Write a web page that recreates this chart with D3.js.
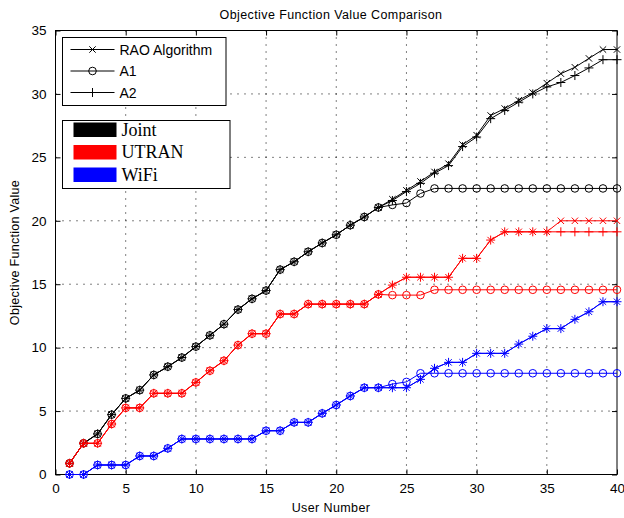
<!DOCTYPE html>
<html>
<head>
<meta charset="utf-8">
<script src="https://cdn.jsdelivr.net/npm/d3@7"></script>
<style>
  body { margin: 0; background: #fff; }
</style>
</head>
<body>
<script>
// user numbers 1..40
const users = d3.range(1, 41);

// Joint (black)
const jointRAO = [0.88, 2.46, 3.2, 4.72, 6.0, 6.65, 7.85, 8.5, 9.22, 10.08, 10.97, 11.85, 13.0, 13.85, 14.5, 16.15, 16.77, 17.56, 18.25, 18.9,
  19.65, 20.3, 21.05, 21.7, 22.4, 23.1, 23.85, 24.5, 26.0, 26.75, 28.3, 28.85, 29.5, 30.1, 30.85, 31.6, 32.1, 32.8, 33.5, 33.5];
const jointA1 = [0.88, 2.46, 3.2, 4.72, 6.0, 6.65, 7.85, 8.5, 9.22, 10.08, 10.97, 11.85, 13.0, 13.85, 14.5, 16.15, 16.77, 17.56, 18.25, 18.9,
  19.65, 20.3, 21.05, 21.25, 21.4, 22.15, 22.55, 22.55, 22.55, 22.55, 22.55, 22.55, 22.55, 22.55, 22.55, 22.55, 22.55, 22.55, 22.55, 22.55];
const jointA2 = [0.88, 2.46, 3.2, 4.72, 6.0, 6.65, 7.85, 8.5, 9.22, 10.08, 10.97, 11.85, 13.0, 13.85, 14.5, 16.15, 16.77, 17.56, 18.25, 18.9,
  19.65, 20.3, 21.05, 21.6, 22.3, 22.95, 23.75, 24.35, 25.85, 26.6, 28.05, 28.7, 29.35, 30.0, 30.55, 30.9, 31.45, 32.05, 32.7, 32.7];

// UTRAN (red)
const utranRAO = [0.88, 2.46, 2.46, 3.98, 5.25, 5.25, 6.4, 6.4, 6.4, 7.26, 8.18, 8.97, 10.2, 11.1, 11.1, 12.65, 12.65, 13.43, 13.43, 13.43,
  13.43, 13.43, 14.2, 14.93, 15.55, 15.55, 15.55, 15.55, 17.04, 17.04, 18.48, 19.13, 19.13, 19.13, 19.13, 20.0, 20.0, 20.0, 20.0, 20.0];
const utranA1 = [0.88, 2.46, 2.46, 3.98, 5.25, 5.25, 6.4, 6.4, 6.4, 7.26, 8.18, 8.97, 10.2, 11.1, 11.1, 12.65, 12.65, 13.43, 13.43, 13.43,
  13.43, 13.43, 14.2, 14.14, 14.14, 14.14, 14.56, 14.56, 14.56, 14.56, 14.56, 14.56, 14.56, 14.56, 14.56, 14.56, 14.56, 14.56, 14.56, 14.56];
const utranA2 = [0.88, 2.46, 2.46, 3.98, 5.25, 5.25, 6.4, 6.4, 6.4, 7.26, 8.18, 8.97, 10.2, 11.1, 11.1, 12.65, 12.65, 13.43, 13.43, 13.43,
  13.43, 13.43, 14.2, 14.93, 15.55, 15.55, 15.55, 15.55, 17.04, 17.04, 18.48, 19.13, 19.13, 19.13, 19.13, 19.13, 19.13, 19.13, 19.13, 19.13];

// WiFi (blue)
const wifiRAO = [0, 0, 0.75, 0.75, 0.75, 1.46, 1.46, 2.06, 2.8, 2.8, 2.8, 2.8, 2.8, 2.8, 3.45, 3.45, 4.11, 4.11, 4.82, 5.48,
  6.19, 6.84, 6.84, 6.84, 6.84, 7.5, 8.37, 8.84, 8.84, 9.55, 9.55, 9.55, 10.28, 10.9, 11.5, 11.5, 12.23, 12.83, 13.62, 13.62];
const wifiA1 = [0, 0, 0.75, 0.75, 0.75, 1.46, 1.46, 2.06, 2.8, 2.8, 2.8, 2.8, 2.8, 2.8, 3.45, 3.45, 4.11, 4.11, 4.82, 5.48,
  6.19, 6.84, 6.84, 7.13, 7.3, 7.98, 7.98, 7.98, 7.98, 7.98, 7.98, 7.98, 7.98, 7.98, 7.98, 7.98, 7.98, 7.98, 7.98, 7.98];
const wifiA2 = [0, 0, 0.75, 0.75, 0.75, 1.46, 1.46, 2.06, 2.8, 2.8, 2.8, 2.8, 2.8, 2.8, 3.45, 3.45, 4.11, 4.11, 4.82, 5.48,
  6.19, 6.84, 6.84, 6.84, 6.84, 7.5, 8.37, 8.84, 8.84, 9.55, 9.55, 9.55, 10.28, 10.9, 11.5, 11.5, 12.23, 12.83, 13.62, 13.62];

const xTicks = [0, 5, 10, 15, 20, 25, 30, 35, 40];
const yTicks = [0, 5, 10, 15, 20, 25, 30, 35];

const algoNames = ["RAO Algorithm", "A1", "A2"];
const algoMarkers = ["x", "o", "+"];
const groupNames = ["Joint", "UTRAN", "WiFi"];
const groupColors = ["#000000", "#ff0000", "#0000ff"];

const series = [
  { color: "#000000", marker: "x", values: jointRAO },
  { color: "#000000", marker: "o", values: jointA1 },
  { color: "#000000", marker: "+", values: jointA2 },
  { color: "#ff0000", marker: "x", values: utranRAO },
  { color: "#ff0000", marker: "o", values: utranA1 },
  { color: "#ff0000", marker: "+", values: utranA2 },
  { color: "#0000ff", marker: "x", values: wifiRAO },
  { color: "#0000ff", marker: "o", values: wifiA1 },
  { color: "#0000ff", marker: "+", values: wifiA2 }
];

const sans = "'Liberation Sans', Arial, sans-serif";
const serif = "'Liberation Serif', 'Times New Roman', serif";

const W = 624, H = 518;
const margin = { top: 30.5, right: 7, bottom: 43.5, left: 55.5 };
const width = W - margin.left - margin.right,
  height = H - margin.top - margin.bottom;

const svg = d3.select("body").append("svg")
  .attr("width", W)
  .attr("height", H)
  .style("font-family", sans);

const g = svg.append("g")
  .attr("transform", "translate(" + margin.left + "," + margin.top + ")");

const x = d3.scaleLinear().domain([0, 40]).range([0, width]);
const y = d3.scaleLinear().domain([0, 35]).range([height, 0]);

// grid
g.append("g").selectAll("line")
  .data(xTicks.slice(1, -1))
  .enter().append("line")
  .attr("x1", d => x(d)).attr("x2", d => x(d))
  .attr("y1", 0).attr("y2", height)
  .attr("stroke", "#000").attr("stroke-width", 1)
  .attr("stroke-dasharray", "1,6");

g.append("g").selectAll("line")
  .data(yTicks.slice(1, -1))
  .enter().append("line")
  .attr("y1", d => y(d)).attr("y2", d => y(d))
  .attr("x1", 0).attr("x2", width)
  .attr("stroke", "#000").attr("stroke-width", 1)
  .attr("stroke-dasharray", "1,6");

// axes (ticks inward)
const xAxis = g.append("g")
  .attr("transform", "translate(0," + height + ")")
  .call(d3.axisBottom(x).tickValues(xTicks).tickSizeInner(-5).tickSizeOuter(0).tickPadding(9));
const xAxisTop = g.append("g")
  .call(d3.axisTop(x).tickValues(xTicks).tickSizeInner(-5).tickSizeOuter(0).tickFormat(""));
const yAxis = g.append("g")
  .call(d3.axisLeft(y).tickValues(yTicks).tickSizeInner(-5).tickSizeOuter(0).tickPadding(9));
const yAxisRight = g.append("g")
  .attr("transform", "translate(" + width + ",0)")
  .call(d3.axisRight(y).tickValues(yTicks).tickSizeInner(-5).tickSizeOuter(0).tickFormat(""));

[xAxis, xAxisTop, yAxis, yAxisRight].forEach(a => {
  a.select(".domain").remove();
  a.attr("font-family", null).attr("font-size", null);
  a.selectAll("text").style("font-size", "13.5px").attr("fill", "#000")
    .style("font-family", sans);
});

g.append("rect")
  .attr("width", width).attr("height", height)
  .attr("fill", "none").attr("stroke", "#000").attr("stroke-width", 1);

// markers
function drawMarker(sel, type, color) {
  if (type === "o") {
    sel.append("circle").attr("r", 3.8)
      .attr("fill", "none").attr("stroke", color).attr("stroke-width", 1);
  } else if (type === "x") {
    sel.append("path").attr("d", "M-3.2,-3.2L3.2,3.2M-3.2,3.2L3.2,-3.2")
      .attr("fill", "none").attr("stroke", color).attr("stroke-width", 1);
  } else {
    sel.append("path").attr("d", "M-4.5,0L4.5,0M0,-4.5L0,4.5")
      .attr("fill", "none").attr("stroke", color).attr("stroke-width", 1);
  }
}

const line = d3.line()
  .x((d, i) => x(users[i]))
  .y(d => y(d));

series.forEach(s => {
  const sg = g.append("g");
  sg.append("path")
    .attr("d", line(s.values))
    .attr("fill", "none")
    .attr("stroke", s.color)
    .attr("stroke-width", 1);
  sg.selectAll("g.m")
    .data(s.values)
    .enter().append("g")
    .attr("class", "m")
    .attr("transform", (d, i) => "translate(" + x(users[i]) + "," + y(d) + ")")
    .each(function () { drawMarker(d3.select(this), s.marker, s.color); });
});

// title and labels
svg.append("text")
  .attr("x", 331).attr("y", 19)
  .attr("text-anchor", "middle")
  .style("font-size", "12.5px")
  .style("letter-spacing", "0.4px")
  .text("Objective Function Value Comparison");

svg.append("text")
  .attr("x", 331).attr("y", 512)
  .attr("text-anchor", "middle")
  .style("font-size", "12.5px")
  .style("letter-spacing", "0.4px")
  .text("User Number");

svg.append("text")
  .attr("transform", "translate(19," + (margin.top + height / 2) + ") rotate(-90)")
  .attr("text-anchor", "middle")
  .style("font-size", "12.5px")
  .style("letter-spacing", "0.3px")
  .text("Objective Function Value");

// legend 1: algorithms
const leg1 = svg.append("g").attr("transform", "translate(62.5,37.5)");
leg1.append("rect").attr("width", 163.5).attr("height", 68)
  .attr("fill", "#fff").attr("stroke", "#000").attr("stroke-width", 1);
algoNames.forEach((name, i) => {
  const row = leg1.append("g").attr("transform", "translate(0," + (12 + i * 21.5) + ")");
  row.append("line").attr("x1", 8).attr("x2", 52).attr("y1", 0).attr("y2", 0)
    .attr("stroke", "#000").attr("stroke-width", 1);
  drawMarker(row.append("g").attr("transform", "translate(30,0)"), algoMarkers[i], "#000");
  row.append("text").attr("x", 57).attr("y", 5)
    .style("font-size", "14px")
    .text(name);
});

// legend 2: groups
const leg2 = svg.append("g").attr("transform", "translate(62.5,120.5)");
leg2.append("rect").attr("width", 167.5).attr("height", 68)
  .attr("fill", "#fff").attr("stroke", "#000").attr("stroke-width", 1);
groupNames.forEach((name, i) => {
  const row = leg2.append("g").attr("transform", "translate(0," + (9 + i * 22.5) + ")");
  row.append("rect").attr("x", 11).attr("y", -7).attr("width", 43).attr("height", 14.5)
    .attr("fill", groupColors[i]);
  row.append("text").attr("x", 59).attr("y", 6)
    .style("font-size", "18px")
    .style("font-family", serif)
    .text(name);
});
</script>
</body>
</html>
